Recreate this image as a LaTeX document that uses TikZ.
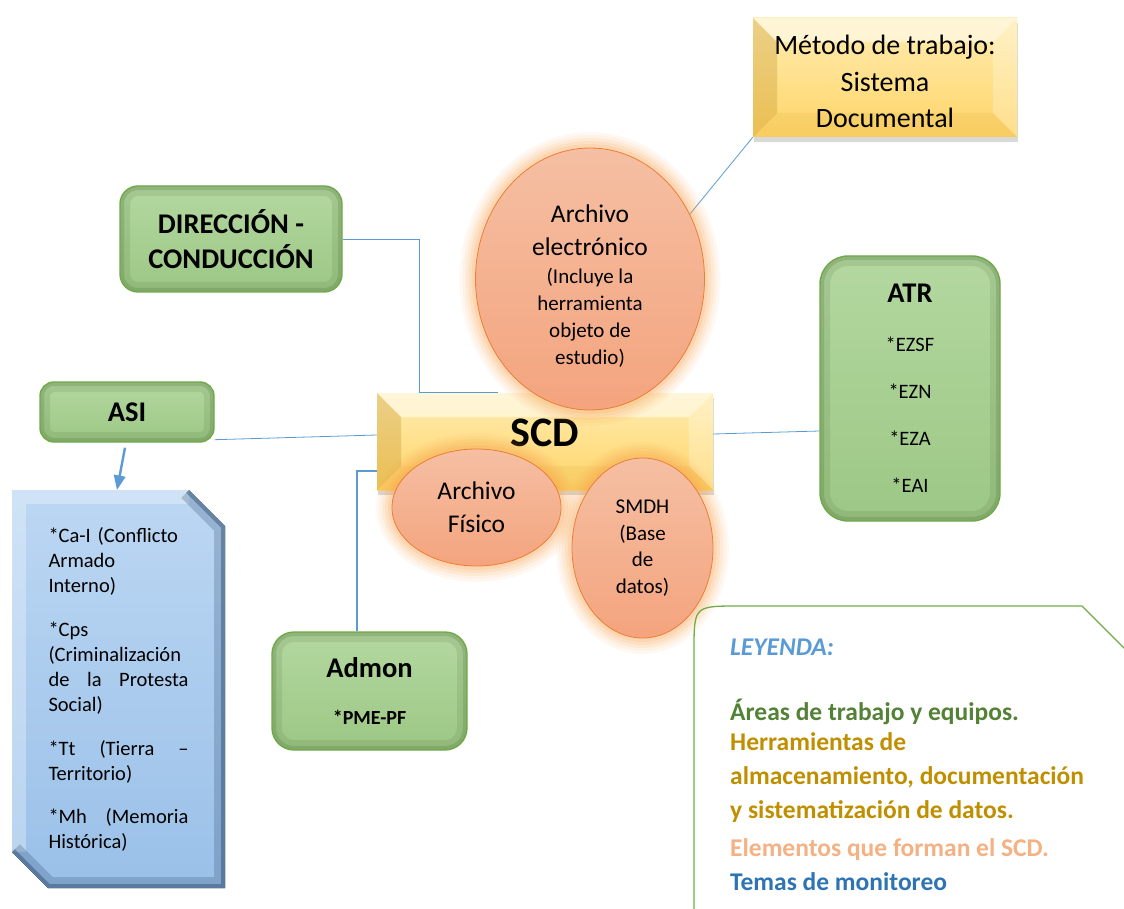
\documentclass[tikz,border=0pt]{standalone}
\usepackage{fontspec}
\setmainfont{Carlito}
\usetikzlibrary{arrows,shadows,shapes.geometric,positioning,backgrounds}

\definecolor{linkblue}{HTML}{5B9BD5}
\definecolor{areatop}{HTML}{B4D8A0}
\definecolor{areabot}{HTML}{9CC785}
\definecolor{arealine}{HTML}{6FAA48}
\definecolor{areashade}{HTML}{4E6F38}
\definecolor{tooltop}{HTML}{FFEDB3}
\definecolor{toolbot}{HTML}{FFD466}
\definecolor{tooldark}{HTML}{C08E24}
\definecolor{elemtop}{HTML}{F5BFA3}
\definecolor{elembot}{HTML}{F4A47E}
\definecolor{elemline}{HTML}{ED7D31}
\definecolor{elemglow}{HTML}{F9A04A}
\definecolor{topictop}{HTML}{BCD7F3}
\definecolor{topicbot}{HTML}{9AC0E8}
\definecolor{topicdark}{HTML}{2C4A6E}
\definecolor{legline}{HTML}{70AD47}
\definecolor{leghead}{HTML}{5B9BD5}
\definecolor{leggreen}{HTML}{538135}
\definecolor{leggold}{HTML}{BF8F00}
\definecolor{legsalmon}{HTML}{F4B183}
\definecolor{legblue}{HTML}{2E74B5}

\newcommand{\jsep}{\hspace{0pt plus 1fill}}
\newcommand{\elemsmall}{\fontsize{21}{27}\selectfont}

\begin{document}
\begin{tikzpicture}[x=1pt,y=-1pt,>=triangle 45,
    area node/.style={draw=arealine,line width=1.4pt,rounded corners=#1,
      top color=areatop,bottom color=areabot,align=center,inner sep=0pt,
      font=\bfseries\fontsize{28.5}{35}\selectfont,
      path picture={
        \draw[areashade,opacity=.15,line width=20pt,rounded corners=#1]
          (path picture bounding box.south west) rectangle (path picture bounding box.north east);
        \draw[areashade,opacity=.22,line width=8pt,rounded corners=#1]
          (path picture bounding box.south west) rectangle (path picture bounding box.north east);}},
    area node/.default=18pt,
    tool node/.style={top color=tooltop,bottom color=toolbot,inner sep=0pt,align=center,
      drop shadow={opacity=.3,shadow xshift=1pt,shadow yshift=-5pt},
      path picture={
        \coordinate (tsw) at (path picture bounding box.south west);
        \coordinate (tne) at (path picture bounding box.north east);
        \coordinate (tnw) at (tsw|-tne);
        \coordinate (tse) at (tne|-tsw);
        \fill[tooldark,opacity=.3] (tsw) -- (tnw) -- ([shift={(24pt,-24pt)}]tnw) -- ([shift={(24pt,24pt)}]tsw) -- cycle;
        \fill[white,opacity=.5] (tnw) -- (tne) -- ([shift={(-24pt,-24pt)}]tne) -- ([shift={(24pt,-24pt)}]tnw) -- cycle;
        \fill[white,opacity=.25] (tne) -- (tse) -- ([shift={(-24pt,24pt)}]tse) -- ([shift={(-24pt,-24pt)}]tne) -- cycle;
        \fill[tooldark,opacity=.1] (tse) -- (tsw) -- ([shift={(24pt,24pt)}]tsw) -- ([shift={(-24pt,24pt)}]tse) -- cycle;}},
    element node/.style={ellipse,draw=elemline,line width=.8pt,top color=elemtop,bottom color=elembot,
      inner sep=0pt,align=center,font=\fontsize{25.5}{33}\selectfont,
      preaction={draw=elemglow,draw opacity=.07,line width=32pt},
      preaction={draw=elemglow,draw opacity=.08,line width=26pt},
      preaction={draw=elemglow,draw opacity=.1,line width=20pt},
      preaction={draw=elemglow,draw opacity=.12,line width=14pt},
      preaction={draw=elemglow,draw opacity=.15,line width=8pt}},
    topic node/.style={inner sep=0pt,text width=140pt,align=left,
      font=\fontsize{20.5}{25}\selectfont,
      path picture={
        \coordinate (qsw) at (path picture bounding box.south west);
        \coordinate (qne) at (path picture bounding box.north east);
        \coordinate (q1) at (qsw|-qne);
        \coordinate (q2) at ([xshift=-36pt]qne);
        \coordinate (q3) at ([yshift=-36pt]qne);
        \coordinate (q4) at (qne|-qsw);
        \coordinate (q5) at ([xshift=36pt]qsw);
        \coordinate (q6) at ([yshift=36pt]qsw);
        \fill[top color=topictop,bottom color=topicbot] (q1) -- (q2) -- (q3) -- (q4) -- (q5) -- (q6) -- cycle;
        \clip (q1) -- (q2) -- (q3) -- (q4) -- (q5) -- (q6) -- cycle;
        \draw[white,opacity=.3,line width=28pt] (q6) -- (q1) -- (q2);
        \draw[topicdark,opacity=.25,line width=22pt] (q2) -- (q3) -- (q4) -- (q5) -- (q6);
        \draw[topicdark,opacity=.45,line width=8pt] (q2) -- (q3) -- (q4) -- (q5) -- (q6);}},
    link/.style={draw=linkblue,line width=.8pt}]

  \useasboundingbox (0,0) rectangle (1124,909);
  \clip (0,0) rectangle (1124,909);

  % areas
  \node[area node,minimum width=222pt,minimum height=106pt] (direccion) at (231,239) {DIRECCIÓN -\\CONDUCCIÓN};
  \node[area node=14pt,minimum width=174pt,minimum height=60pt] (asi) at (127,412) {ASI};
  \node[area node=28pt,minimum width=180pt,minimum height=265pt,font=\fontsize{20.5}{47}\selectfont] (atr) at (910,388.5)
    {{\bfseries\fontsize{28.5}{47}\selectfont ATR}\\[2pt]*EZSF\\*EZN\\*EZA\\*EAI};
  \node[area node=22pt,minimum width=195pt,minimum height=118pt] (admon) at (369.5,691)
    {Admon\\[12pt]{\fontsize{20}{24}\selectfont *PME-PF}};

  % tools
  \node[tool node,minimum width=264pt,minimum height=119pt,font=\fontsize{28}{36.5}\selectfont] (metodo) at (885,77.5)
    {\rule{0pt}{28pt}Método de trabajo:\\Sistema\\Documental};
  \node[tool node,minimum width=336pt,minimum height=97pt,font=\bfseries\fontsize{42}{42}\selectfont] (scd) at (545,441.5)
    {\raisebox{17pt}{SCD}};

  % elements
  \node[element node,minimum width=229pt,minimum height=262pt] (electronico) at (590,279)
    {\rule{0pt}{31pt}Archivo\\electrónico\\[-5pt]\elemsmall(Incluye la\\[-6pt]\elemsmall herramienta\\[-6pt]\elemsmall objeto de\\[-6pt]\elemsmall estudio)};
  \node[element node,minimum width=169pt,minimum height=117pt] (fisico) at (476.5,507.5) {Archivo\\Físico};
  \node[element node,minimum width=141pt,minimum height=180pt,font=\fontsize{21}{26.5}\selectfont] (smdh) at (642.5,548)
    {SMDH\\(Base\\de\\datos)};

  % topics
  \node[topic node,minimum width=213pt,minimum height=398pt] (topics) at (118.5,689)
    {*Ca-I (Conflicto\\Armado\\Interno)\\[19pt]
     *Cps\\(Criminalización\\de\jsep la\jsep Protesta\\Social)\\[19pt]
     *Tt\jsep (Tierra\jsep --\\Territorio)\\[18pt]
     *Mh\jsep (Memoria\\Histórica)};

  % connectors
  \begin{scope}[on background layer]
    \draw[link] (direccion.east) -| ([xshift=-126pt]scd.north) -- ([xshift=-47pt]scd.north);
    \draw[link] ([yshift=3pt]asi.south east) -- ([yshift=6.5pt]scd.west);
    \draw[link] ([yshift=7.5pt]scd.east) -- ([yshift=-42.5pt]atr.west);
    \draw[link,line width=1.4pt] ([xshift=-12.5pt]admon.north) |- ([yshift=-29.5pt]scd.west);
    \draw[link] (electronico.33) -- (metodo.south west);
  \end{scope}
  \draw[link,line width=2.4pt,->] ([shift={(-2pt,-5pt)}]asi.south) -- ([xshift=-1.5pt]topics.north);

  % legend
  \draw[legline,line width=1.3pt] (694,915) -- (694,651) .. controls (694,606) .. (739,606) -- (1082,606) -- (1132,656);
  \node[anchor=base west,inner sep=0pt,text=leghead,font=\bfseries\itshape\fontsize{25.5}{30}\selectfont] (leyenda) at (730,655) {LEYENDA:};
  \node[anchor=north west,inner sep=0pt,align=left,font=\bfseries\fontsize{25.5}{34}\selectfont] (legend) at (730,699)
    {\textcolor{leggreen}{Áreas de trabajo y equipos.}\\[-4pt]
     \textcolor{leggold}{Herramientas de}\\
     \textcolor{leggold}{almacenamiento, documentación}\\
     \textcolor{leggold}{y sistematización de datos.}\\[4pt]
     \textcolor{legsalmon}{Elementos que forman el SCD.}\\
     \textcolor{legblue}{Temas de monitoreo}};
\end{tikzpicture}
\end{document}
